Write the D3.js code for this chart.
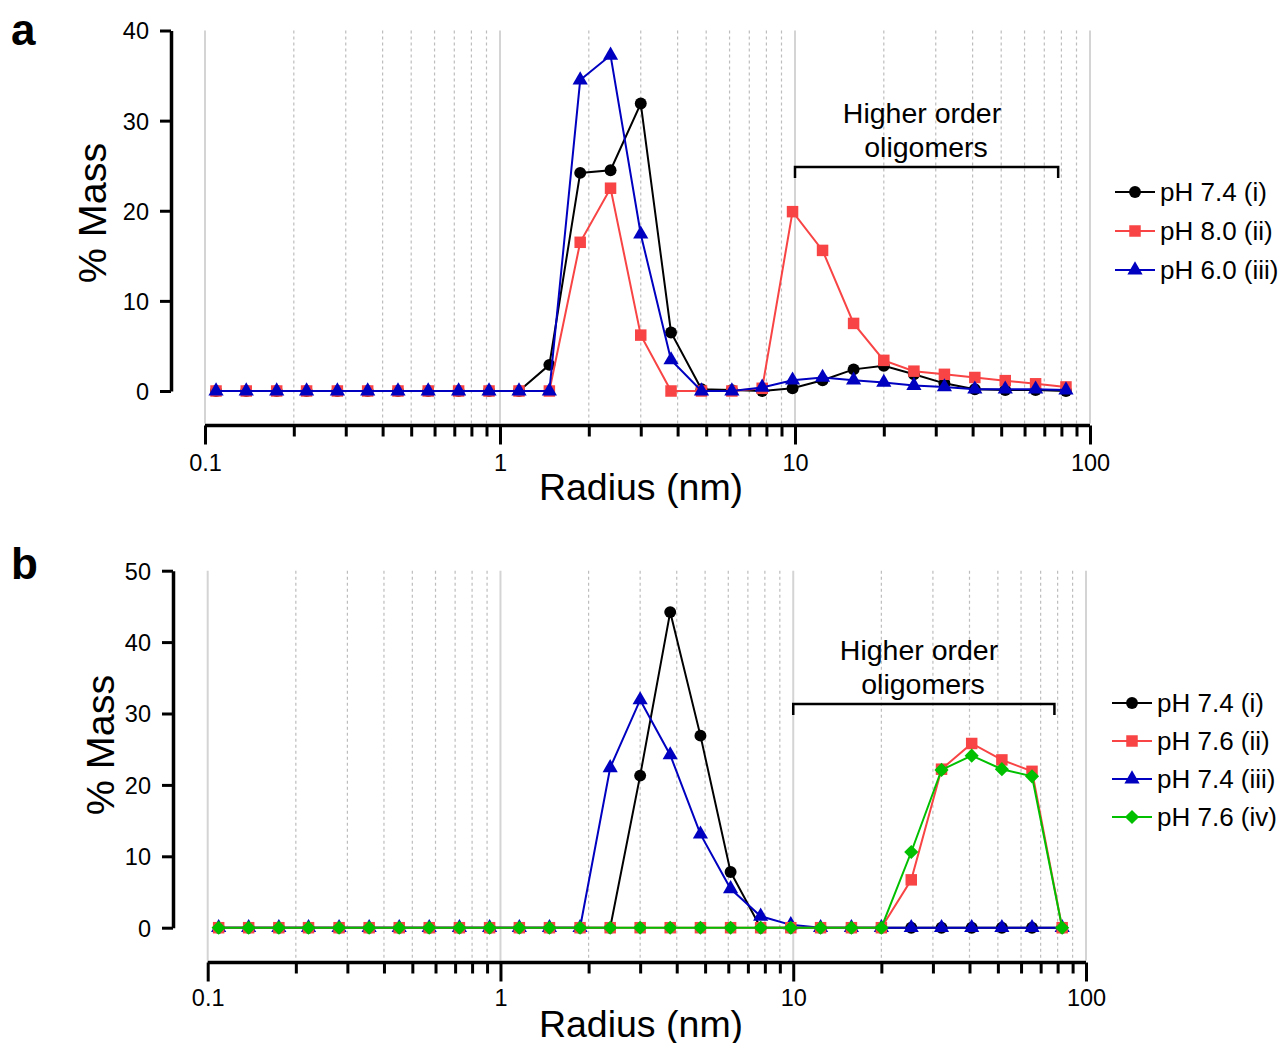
<!DOCTYPE html>
<html>
<head>
<meta charset="utf-8">
<script src="https://cdn.jsdelivr.net/npm/d3@7"></script>
<style>
  html, body { margin: 0; padding: 0; background: #fff; }
  svg text { font-family: "Liberation Sans", Arial, Helvetica, sans-serif; fill: #000; }
</style>
</head>
<body>
<svg id="chart" width="1284" height="1043"></svg>
<script>
// Radius bins (nm) shared by both panels
const radius = [0.109, 0.138, 0.175, 0.221, 0.281, 0.356, 0.451, 0.571, 0.724, 0.918,
                1.16, 1.47, 1.87, 2.37, 3.00, 3.80, 4.82, 6.11, 7.74, 9.81,
                12.4, 15.8, 20.0, 25.3, 32.1, 40.7, 51.6, 65.4, 82.9];

// Panel a: % mass per radius bin
const massA_pH74 = [0, 0, 0, 0, 0, 0, 0, 0, 0, 0, 0, 2.9, 24.2, 24.5, 31.9, 6.5, 0.2, 0.1, 0,
                    0.3, 1.2, 2.4, 2.8, 1.85, 0.85, 0.2, 0.1, 0.1, 0];
const massA_pH80 = [0, 0, 0, 0, 0, 0, 0, 0, 0, 0, 0, 0, 16.5, 22.5, 6.2, 0, 0, 0, 0.3,
                    19.9, 15.6, 7.5, 3.4, 2.2, 1.85, 1.5, 1.15, 0.8, 0.45];
const massA_pH60 = [0, 0, 0, 0, 0, 0, 0, 0, 0, 0, 0, 0, 34.5, 37.25, 17.4, 3.45, 0, 0, 0.4,
                    1.2, 1.5, 1.2, 0.95, 0.6, 0.45, 0.2, 0.2, 0.2, 0.1];
const labelsA = ["pH 7.4 (i)", "pH 8.0 (ii)", "pH 6.0 (iii)"];

// Panel b: % mass per radius bin
const massB_pH74i   = [0, 0, 0, 0, 0, 0, 0, 0, 0, 0, 0, 0, 0, 0, 21.3, 44.2, 26.9, 7.8, 0,
                       0, 0, 0, 0, 0, 0, 0, 0, 0, 0];
const massB_pH76ii  = [0, 0, 0, 0, 0, 0, 0, 0, 0, 0, 0, 0, 0, 0, 0, 0, 0, 0, 0,
                       0, 0, 0, 0, 6.7, 22.2, 25.8, 23.5, 21.9, 0];
const massB_pH74iii = [0, 0, 0, 0, 0, 0, 0, 0, 0, 0, 0, 0, 0, 22.4, 31.9, 24.2, 13.1, 5.45, 1.6,
                       0.4, 0, 0, 0, 0, 0, 0, 0, 0, 0];
const massB_pH76iv  = [0, 0, 0, 0, 0, 0, 0, 0, 0, 0, 0, 0, 0, 0, 0, 0, 0, 0, 0,
                       0, 0, 0, 0, 10.6, 22.1, 24.1, 22.2, 21.2, 0];
const labelsB = ["pH 7.4 (i)", "pH 7.6 (ii)", "pH 7.4 (iii)", "pH 7.6 (iv)"];

const xTickMajor = [0.1, 1, 10, 100];
const xTickLabels = ["0.1", "1", "10", "100"];
const yTicksA = [0, 10, 20, 30, 40];
const yTicksB = [0, 10, 20, 30, 40, 50];
const bracketText = ["Higher order", "oligomers"];

const BLACK = "#000000", RED = "#f84444", BLUE = "#0000c0", GREEN = "#00c000";

const svg = d3.select("#chart");

// minor ticks: 2..9 in each decade
const xTickMinor = [];
[0.1, 1, 10].forEach(d => { for (let k = 2; k <= 9; k++) xTickMinor.push(+(d * k).toPrecision(3)); });

function markerPath(shape) {
  if (shape === "circle") return d3.symbol(d3.symbolCircle, 112)();
  if (shape === "square") return d3.symbol(d3.symbolSquare, 132)();
  if (shape === "triangle") return d3.symbol(d3.symbolTriangle, 100)();
  return d3.symbol(d3.symbolSquare, 100)();
}
function markerTransform(shape, x, y) {
  return shape === "diamond" ? `translate(${x},${y}) rotate(45)` : `translate(${x},${y})`;
}

function drawPanel(cfg) {
  const g = svg.append("g");
  const x = d3.scaleLog().domain([0.1, 100]).range(cfg.xRange);
  const y = d3.scaleLinear().domain([0, cfg.yMax]).range(cfg.yRange);

  // vertical grid
  const grid = g.append("g");
  grid.selectAll("line.minor").data(xTickMinor).join("line")
    .attr("x1", d => x(d)).attr("x2", d => x(d))
    .attr("y1", cfg.yRange[1]).attr("y2", cfg.xAxisY - 2)
    .attr("stroke", "#bdbdbd").attr("stroke-width", 1.2).attr("stroke-dasharray", "3,3");
  grid.selectAll("line.major").data(xTickMajor).join("line")
    .attr("x1", d => x(d)).attr("x2", d => x(d))
    .attr("y1", cfg.yRange[1]).attr("y2", cfg.xAxisY - 2)
    .attr("stroke", "#d4d4d4").attr("stroke-width", 2);

  // x axis
  const xAxis = d3.axisBottom(x)
    .tickValues(xTickMajor.concat(xTickMinor))
    .tickSizeOuter(0)
    .tickSize(11)
    .tickFormat(d => { const i = xTickMajor.indexOf(d); return i >= 0 ? xTickLabels[i] : ""; });
  const xa = g.append("g").attr("transform", `translate(0,${cfg.xAxisY})`).call(xAxis);
  xa.select(".domain").attr("stroke", "#000").attr("stroke-width", 3.5)
    .attr("d", `M${cfg.xRange[0]},0H${cfg.xRange[1]}`);
  xa.selectAll(".tick line").attr("stroke", "#000").attr("stroke-width", 3)
    .attr("y2", d => xTickMajor.includes(d) ? 19 : 11);
  xa.selectAll(".tick text").attr("y", cfg.xLabelDy).attr("dy", 0)
    .attr("font-size", 23.5).attr("font-family", "Liberation Sans, Arial, sans-serif");

  // y axis
  const yAxis = d3.axisLeft(y).tickValues(cfg.yTicks).tickSize(11).tickSizeOuter(0).tickFormat(d3.format("d"));
  const ya = g.append("g").attr("transform", `translate(${cfg.yAxisX},0)`).call(yAxis);
  ya.select(".domain").attr("stroke", "#000").attr("stroke-width", 3.5);
  ya.selectAll(".tick line").attr("stroke", "#000").attr("stroke-width", 3);
  ya.selectAll(".tick text").attr("x", -22).attr("dy", "0.36em")
    .attr("font-size", 23.5).attr("font-family", "Liberation Sans, Arial, sans-serif");

  // axis titles
  g.append("text").attr("x", cfg.xTitleX).attr("y", cfg.xAxisY + 74)
    .attr("text-anchor", "middle").attr("font-size", 37.5).text("Radius (nm)");
  g.append("text")
    .attr("transform", `translate(${cfg.yTitleX},${cfg.yTitleY}) rotate(-90)`)
    .attr("text-anchor", "middle").attr("dy", "0.36em").attr("font-size", 39.5).text("% Mass");

  // panel letter
  g.append("text").attr("x", 11).attr("y", cfg.letterY)
    .attr("font-size", 44).attr("font-weight", "bold").text(cfg.letter);

  // bracket and annotation
  const bx0 = x(10), bx1 = x(cfg.bracketEnd);
  g.append("path")
    .attr("d", `M${bx0},${cfg.bracketY + 11}V${cfg.bracketY}H${bx1}V${cfg.bracketY + 11}`)
    .attr("fill", "none").attr("stroke", "#000").attr("stroke-width", 2.5);
  g.append("text").attr("x", cfg.textX).attr("y", cfg.bracketY - 44)
    .attr("text-anchor", "middle").attr("font-size", 28.5).text(bracketText[0]);
  g.append("text").attr("x", cfg.textX + 4).attr("y", cfg.bracketY - 10)
    .attr("text-anchor", "middle").attr("font-size", 28.5).text(bracketText[1]);

  // series
  const line = d3.line().x(d => x(d[0])).y(d => y(d[1]));
  cfg.series.forEach(s => {
    const pts = radius.map((r, i) => [r, s.values[i]]);
    const sg = g.append("g");
    sg.append("path").datum(pts).attr("d", line)
      .attr("fill", "none").attr("stroke", s.color).attr("stroke-width", 2);
    sg.selectAll("path.m").data(pts).join("path")
      .attr("d", markerPath(s.shape))
      .attr("transform", d => markerTransform(s.shape, x(d[0]), y(d[1])))
      .attr("fill", s.color);
  });

  // legend
  const lg = g.append("g");
  cfg.legendOrder.forEach((s, i) => {
    const cy = cfg.legendY + i * cfg.legendStep;
    lg.append("line").attr("x1", cfg.legendX).attr("x2", cfg.legendX + 40)
      .attr("y1", cy).attr("y2", cy).attr("stroke", s.color).attr("stroke-width", 2);
    lg.append("path").attr("d", markerPath(s.shape))
      .attr("transform", markerTransform(s.shape, cfg.legendX + 20, cy)).attr("fill", s.color);
    lg.append("text").attr("x", cfg.legendX + 45).attr("y", cy).attr("dy", "0.36em")
      .attr("font-size", 26).text(s.label);
  });
}

// Panel a
const sA = [
  { values: massA_pH74, color: BLACK, shape: "circle", label: labelsA[0] },
  { values: massA_pH80, color: RED, shape: "square", label: labelsA[1] },
  { values: massA_pH60, color: BLUE, shape: "triangle", label: labelsA[2] }
];
drawPanel({
  letter: "a", letterY: 45,
  xRange: [205, 1090], yRange: [391, 30.5], yMax: 40, yTicks: yTicksA,
  xAxisY: 425.5, yAxisX: 171, xLabelDy: 45,
  xTitleX: 641, yTitleX: 92, yTitleY: 213,
  bracketY: 167, bracketEnd: 78, textX: 922,
  series: sA, legendOrder: sA,
  legendX: 1115, legendY: 192, legendStep: 39
});

// Panel b (drawing order keeps green on top)
const sB = [
  { values: massB_pH74i, color: BLACK, shape: "circle", label: labelsB[0] },
  { values: massB_pH76ii, color: RED, shape: "square", label: labelsB[1] },
  { values: massB_pH74iii, color: BLUE, shape: "triangle", label: labelsB[2] },
  { values: massB_pH76iv, color: GREEN, shape: "diamond", label: labelsB[3] }
];
drawPanel({
  letter: "b", letterY: 579,
  xRange: [207.7, 1086], yRange: [927.7, 570.7], yMax: 50, yTicks: yTicksB,
  xAxisY: 962.5, yAxisX: 173, xLabelDy: 43,
  xTitleX: 641, yTitleX: 100, yTitleY: 745,
  bracketY: 704, bracketEnd: 78, textX: 919,
  series: [sB[0], sB[2], sB[1], sB[3]], legendOrder: sB,
  legendX: 1112, legendY: 703, legendStep: 38
});
</script>
</body>
</html>
